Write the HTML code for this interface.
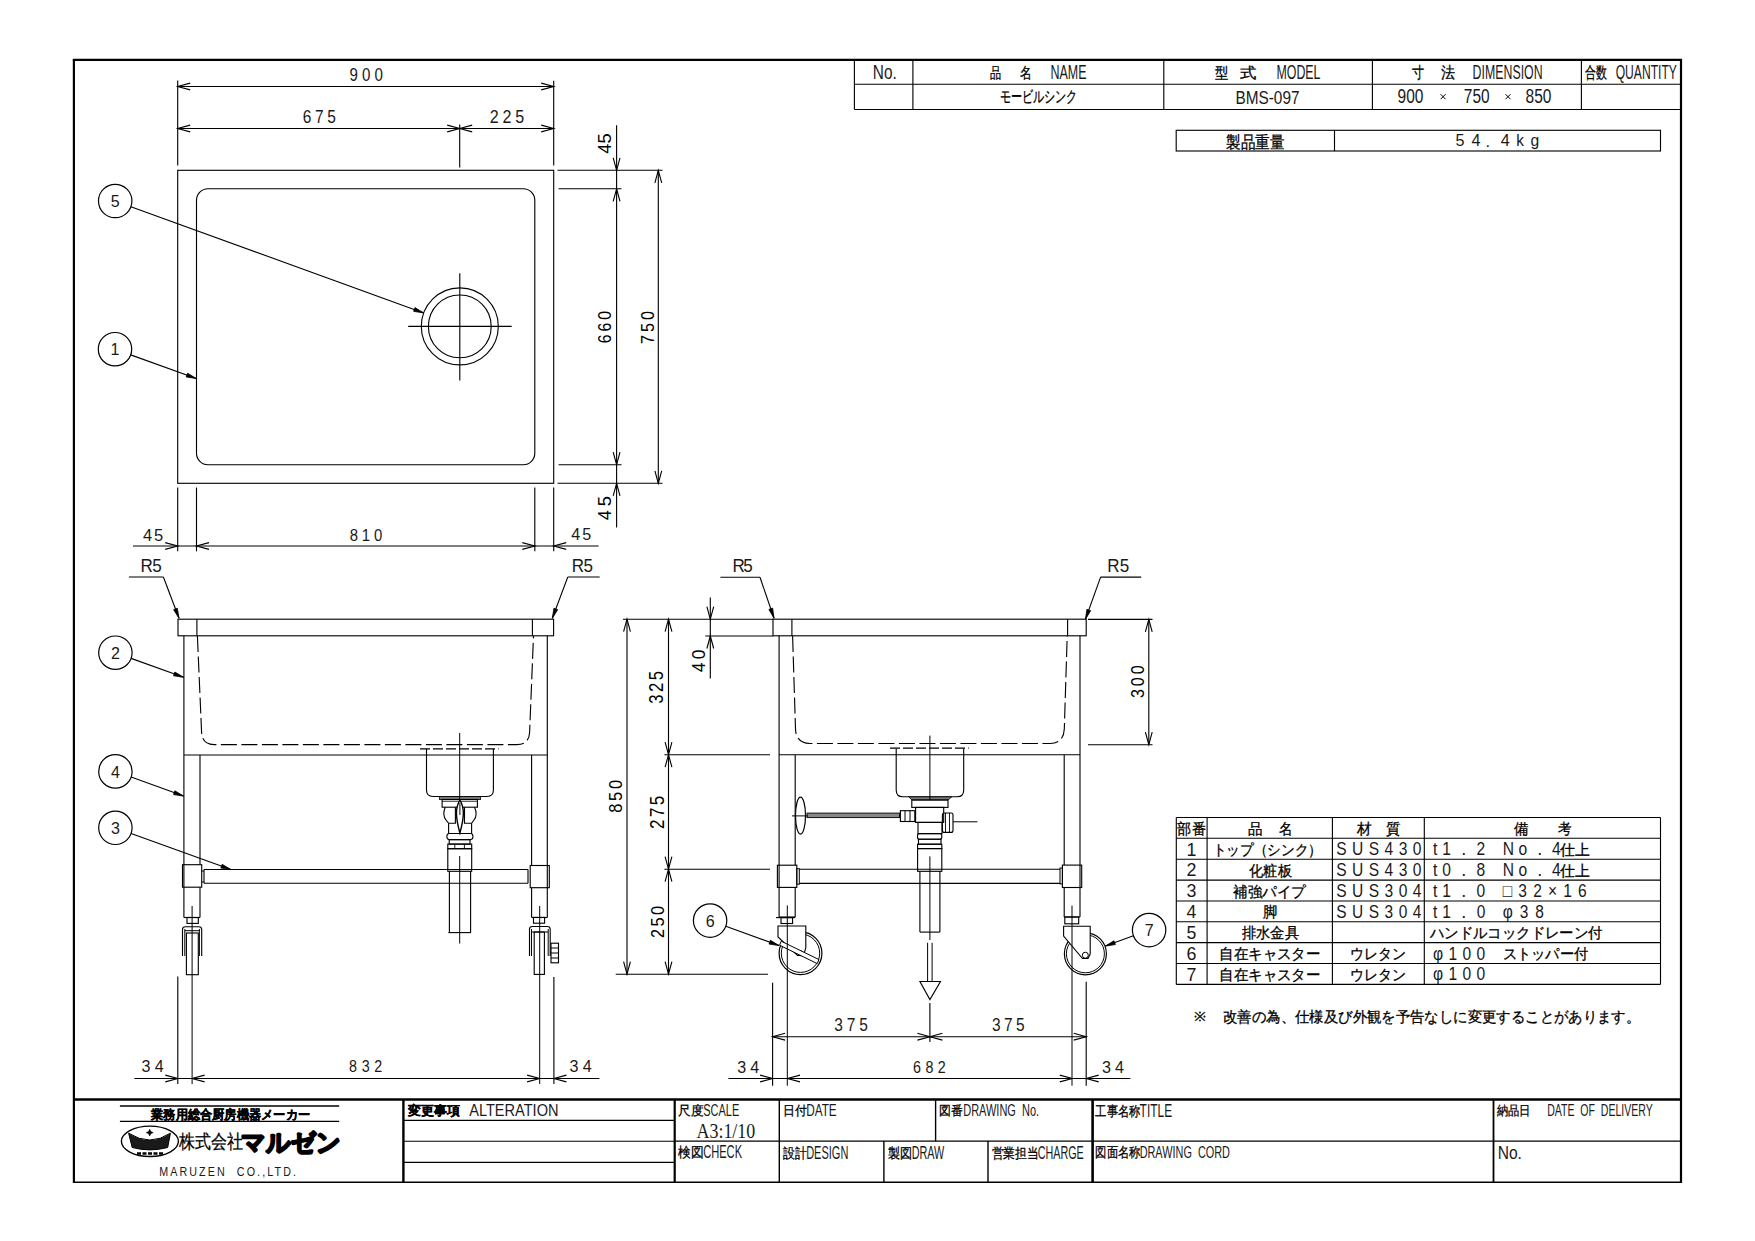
<!DOCTYPE html>
<html><head><meta charset="utf-8"><style>
html,body{margin:0;padding:0;background:#fff;}
svg{display:block;}
</style></head><body>
<svg width="1755" height="1241" viewBox="0 0 1755 1241" stroke-linecap="butt">
<rect x="0" y="0" width="1755" height="1241" fill="#fff"/>
<line x1="72.90" y1="59.90" x2="1682.00" y2="59.90" stroke="#000" stroke-width="2.2" />
<line x1="73.90" y1="59.00" x2="73.90" y2="1183.00" stroke="#000" stroke-width="2.2" />
<line x1="1681.00" y1="59.00" x2="1681.00" y2="1183.00" stroke="#000" stroke-width="2.2" />
<line x1="73.00" y1="1182.20" x2="1682.00" y2="1182.20" stroke="#000" stroke-width="1.6" />
<line x1="854.40" y1="84.30" x2="1681.00" y2="84.30" stroke="#000" stroke-width="1.12" />
<line x1="854.40" y1="109.50" x2="1681.00" y2="109.50" stroke="#000" stroke-width="1.12" />
<line x1="854.40" y1="60.00" x2="854.40" y2="109.50" stroke="#000" stroke-width="1.12" />
<line x1="912.90" y1="60.00" x2="912.90" y2="109.50" stroke="#000" stroke-width="1.12" />
<line x1="1163.80" y1="60.00" x2="1163.80" y2="109.50" stroke="#000" stroke-width="1.12" />
<line x1="1372.40" y1="60.00" x2="1372.40" y2="109.50" stroke="#000" stroke-width="1.12" />
<line x1="1581.40" y1="60.00" x2="1581.40" y2="109.50" stroke="#000" stroke-width="1.12" />
<text transform="translate(872.79,79.40) scale(1.0,1)" font-size="20.22" textLength="23.92" lengthAdjust="spacingAndGlyphs" font-family="'Liberation Sans', sans-serif" font-weight="normal" fill="#1a1a1a" style="white-space:pre" >No.</text>
<text x="989.74" y="78.03" font-size="15.22" textLength="11.12" lengthAdjust="spacingAndGlyphs" font-family="'Liberation Sans', sans-serif" font-weight="normal" style="white-space:pre" stroke="#000" stroke-width="0.3">品</text>
<text x="1019.64" y="78.03" font-size="15.22" textLength="11.72" lengthAdjust="spacingAndGlyphs" font-family="'Liberation Sans', sans-serif" font-weight="normal" style="white-space:pre" stroke="#000" stroke-width="0.3">名</text>
<text transform="translate(1050.52,79.10) scale(1.0,1)" font-size="19.53" textLength="36.05" lengthAdjust="spacingAndGlyphs" font-family="'Liberation Sans', sans-serif" font-weight="normal" fill="#1a1a1a" style="white-space:pre" >NAME</text>
<text x="1215.13" y="77.92" font-size="15.44" textLength="13.34" lengthAdjust="spacingAndGlyphs" font-family="'Liberation Sans', sans-serif" font-weight="normal" style="white-space:pre" stroke="#000" stroke-width="0.3">型</text>
<text x="1240.23" y="77.92" font-size="15.44" textLength="16.44" lengthAdjust="spacingAndGlyphs" font-family="'Liberation Sans', sans-serif" font-weight="normal" style="white-space:pre" stroke="#000" stroke-width="0.3">式</text>
<text transform="translate(1276.42,79.00) scale(1.0,1)" font-size="19.67" textLength="44.07" lengthAdjust="spacingAndGlyphs" font-family="'Liberation Sans', sans-serif" font-weight="normal" fill="#1a1a1a" style="white-space:pre" >MODEL</text>
<text x="1411.91" y="77.70" font-size="15.78" textLength="12.18" lengthAdjust="spacingAndGlyphs" font-family="'Liberation Sans', sans-serif" font-weight="normal" style="white-space:pre" stroke="#000" stroke-width="0.3">寸</text>
<text x="1441.01" y="77.70" font-size="15.78" textLength="13.98" lengthAdjust="spacingAndGlyphs" font-family="'Liberation Sans', sans-serif" font-weight="normal" style="white-space:pre" stroke="#000" stroke-width="0.3">法</text>
<text transform="translate(1472.60,79.00) scale(1.0,1)" font-size="19.94" textLength="69.99" lengthAdjust="spacingAndGlyphs" font-family="'Liberation Sans', sans-serif" font-weight="normal" fill="#1a1a1a" style="white-space:pre" >DIMENSION</text>
<text x="1585.01" y="77.70" font-size="15.78" textLength="21.88" lengthAdjust="spacingAndGlyphs" font-family="'Liberation Sans', sans-serif" font-weight="normal" style="white-space:pre" stroke="#000" stroke-width="0.3">合数</text>
<text transform="translate(1615.70,79.00) scale(1.0,1)" font-size="19.94" textLength="61.19" lengthAdjust="spacingAndGlyphs" font-family="'Liberation Sans', sans-serif" font-weight="normal" fill="#1a1a1a" style="white-space:pre" >QUANTITY</text>
<text x="999.90" y="101.98" font-size="16.00" textLength="77.60" lengthAdjust="spacingAndGlyphs" font-family="'Liberation Sans', sans-serif" font-weight="normal" style="white-space:pre" stroke="#000" stroke-width="0.3">モービルシンク</text>
<text transform="translate(1235.44,103.60) scale(1.0,1)" font-size="19.25" textLength="64.03" lengthAdjust="spacingAndGlyphs" font-family="'Liberation Sans', sans-serif" font-weight="normal" fill="#1a1a1a" style="white-space:pre" >BMS-097</text>
<text transform="translate(1397.52,103.30) scale(1.0,1)" font-size="19.67" textLength="25.87" lengthAdjust="spacingAndGlyphs" font-family="'Liberation Sans', sans-serif" font-weight="normal" fill="#1a1a1a" style="white-space:pre" >900</text>
<text transform="translate(1463.82,103.30) scale(1.0,1)" font-size="19.67" textLength="25.77" lengthAdjust="spacingAndGlyphs" font-family="'Liberation Sans', sans-serif" font-weight="normal" fill="#1a1a1a" style="white-space:pre" >750</text>
<text transform="translate(1525.62,103.30) scale(1.0,1)" font-size="19.67" textLength="25.87" lengthAdjust="spacingAndGlyphs" font-family="'Liberation Sans', sans-serif" font-weight="normal" fill="#1a1a1a" style="white-space:pre" >850</text>
<line x1="1440.60" y1="94.20" x2="1445.60" y2="99.20" stroke="#000" stroke-width="1" />
<line x1="1440.60" y1="99.20" x2="1445.60" y2="94.20" stroke="#000" stroke-width="1" />
<line x1="1505.50" y1="94.20" x2="1510.50" y2="99.20" stroke="#000" stroke-width="1" />
<line x1="1505.50" y1="99.20" x2="1510.50" y2="94.20" stroke="#000" stroke-width="1" />
<rect x="1176.20" y="130.30" width="484.30" height="20.70" rx="0" fill="none" stroke="#000" stroke-width="1.12"/>
<line x1="1334.50" y1="130.30" x2="1334.50" y2="151.00" stroke="#000" stroke-width="1.12" />
<text x="1226.14" y="147.90" font-size="17.11" textLength="58.51" lengthAdjust="spacingAndGlyphs" font-family="'Liberation Sans', sans-serif" font-weight="normal" style="white-space:pre" stroke="#000" stroke-width="0.3">製品重量</text>
<text transform="translate(1455.59,146.20) scale(0.95,1)" font-size="17.04" textLength="11.07" lengthAdjust="spacing" font-family="'Liberation Sans', sans-serif" font-weight="normal" fill="#1a1a1a" style="white-space:pre" >5</text>
<text transform="translate(1471.39,146.20) scale(0.95,1)" font-size="17.04" textLength="10.55" lengthAdjust="spacing" font-family="'Liberation Sans', sans-serif" font-weight="normal" fill="#1a1a1a" style="white-space:pre" >4</text>
<text transform="translate(1485.48,146.60) scale(0.97,1)" font-size="17.00" textLength="4.28" lengthAdjust="spacing" font-family="'Liberation Sans', sans-serif" font-weight="normal" fill="#1a1a1a" style="white-space:pre" >.</text>
<text transform="translate(1500.79,146.20) scale(0.95,1)" font-size="17.04" textLength="10.55" lengthAdjust="spacing" font-family="'Liberation Sans', sans-serif" font-weight="normal" fill="#1a1a1a" style="white-space:pre" >4</text>
<text transform="translate(1516.13,146.20) scale(0.9,1)" font-size="17.04" textLength="8.04" lengthAdjust="spacing" font-family="'Liberation Sans', sans-serif" font-weight="normal" fill="#1a1a1a" style="white-space:pre" >k</text>
<text transform="translate(1530.42,146.20) scale(0.95,1)" font-size="16.50" textLength="9.23" lengthAdjust="spacing" font-family="'Liberation Sans', sans-serif" font-weight="normal" fill="#1a1a1a" style="white-space:pre" >g</text>
<rect x="177.70" y="170.30" width="376.00" height="313.00" rx="0" fill="none" stroke="#000" stroke-width="1.12"/>
<rect x="196.50" y="188.80" width="338.30" height="275.90" rx="11.5" fill="none" stroke="#000" stroke-width="1.12"/>
<circle cx="459.80" cy="326.40" r="38.50" fill="none" stroke="#000" stroke-width="1.12"/>
<circle cx="459.80" cy="326.40" r="31.40" fill="none" stroke="#000" stroke-width="1.12"/>
<line x1="459.80" y1="273.20" x2="459.80" y2="380.60" stroke="#000" stroke-width="1.12" />
<line x1="408.20" y1="326.40" x2="511.70" y2="326.40" stroke="#000" stroke-width="1.12" />
<line x1="177.70" y1="80.50" x2="177.70" y2="165.50" stroke="#000" stroke-width="1.12" />
<line x1="553.70" y1="80.70" x2="553.70" y2="165.50" stroke="#000" stroke-width="1.12" />
<line x1="177.70" y1="86.50" x2="553.70" y2="86.50" stroke="#000" stroke-width="1.12" />
<polyline points="190.20,83.10 177.70,86.50 190.20,89.90" fill="none" stroke="#000" stroke-width="1.12" />
<polyline points="541.20,89.90 553.70,86.50 541.20,83.10" fill="none" stroke="#000" stroke-width="1.12" />
<text transform="translate(349.54,80.70) scale(0.86,1)" font-size="17.59" textLength="38.85" lengthAdjust="spacing" font-family="'Liberation Sans', sans-serif" font-weight="normal" fill="#1a1a1a" style="white-space:pre" >900</text>
<line x1="459.70" y1="124.50" x2="459.70" y2="167.40" stroke="#000" stroke-width="1.12" />
<line x1="177.70" y1="128.50" x2="553.70" y2="128.50" stroke="#000" stroke-width="1.12" />
<polyline points="190.20,125.10 177.70,128.50 190.20,131.90" fill="none" stroke="#000" stroke-width="1.12" />
<polyline points="447.20,131.90 459.70,128.50 447.20,125.10" fill="none" stroke="#000" stroke-width="1.12" />
<polyline points="472.20,125.10 459.70,128.50 472.20,131.90" fill="none" stroke="#000" stroke-width="1.12" />
<polyline points="541.20,131.90 553.70,128.50 541.20,125.10" fill="none" stroke="#000" stroke-width="1.12" />
<text transform="translate(302.83,123.00) scale(0.86,1)" font-size="18.01" textLength="38.43" lengthAdjust="spacing" font-family="'Liberation Sans', sans-serif" font-weight="normal" fill="#1a1a1a" style="white-space:pre" >675</text>
<text transform="translate(489.80,123.00) scale(0.86,1)" font-size="18.70" textLength="40.01" lengthAdjust="spacing" font-family="'Liberation Sans', sans-serif" font-weight="normal" fill="#1a1a1a" style="white-space:pre" >225</text>
<line x1="557.50" y1="170.30" x2="662.50" y2="170.30" stroke="#000" stroke-width="1.12" />
<line x1="558.60" y1="188.80" x2="621.50" y2="188.80" stroke="#000" stroke-width="1.12" />
<line x1="558.60" y1="464.70" x2="621.50" y2="464.70" stroke="#000" stroke-width="1.12" />
<line x1="557.50" y1="483.30" x2="662.50" y2="483.30" stroke="#000" stroke-width="1.12" />
<line x1="616.60" y1="125.20" x2="616.60" y2="527.50" stroke="#000" stroke-width="1.12" />
<polyline points="613.20,157.80 616.60,170.30 620.00,157.80" fill="none" stroke="#000" stroke-width="1.12" />
<polyline points="620.00,201.30 616.60,188.80 613.20,201.30" fill="none" stroke="#000" stroke-width="1.12" />
<polyline points="613.20,452.20 616.60,464.70 620.00,452.20" fill="none" stroke="#000" stroke-width="1.12" />
<polyline points="620.00,495.80 616.60,483.30 613.20,495.80" fill="none" stroke="#000" stroke-width="1.12" />
<line x1="658.30" y1="170.30" x2="658.30" y2="483.30" stroke="#000" stroke-width="1.12" />
<polyline points="661.70,182.80 658.30,170.30 654.90,182.80" fill="none" stroke="#000" stroke-width="1.12" />
<polyline points="654.90,470.80 658.30,483.30 661.70,470.80" fill="none" stroke="#000" stroke-width="1.12" />
<text transform="translate(611.30,153.81) rotate(-90) scale(0.97,1)" font-size="18.84" textLength="21.16" lengthAdjust="spacing" font-family="'Liberation Sans', sans-serif">45</text>
<text transform="translate(611.20,343.29) rotate(-90) scale(0.86,1)" font-size="18.42" textLength="37.54" lengthAdjust="spacing" font-family="'Liberation Sans', sans-serif">660</text>
<text transform="translate(653.80,344.01) rotate(-90) scale(0.86,1)" font-size="18.84" textLength="38.40" lengthAdjust="spacing" font-family="'Liberation Sans', sans-serif">750</text>
<text transform="translate(611.30,520.21) rotate(-90) scale(0.97,1)" font-size="18.84" textLength="24.87" lengthAdjust="spacing" font-family="'Liberation Sans', sans-serif">45</text>
<line x1="177.70" y1="487.50" x2="177.70" y2="551.30" stroke="#000" stroke-width="1.12" />
<line x1="196.50" y1="487.50" x2="196.50" y2="551.30" stroke="#000" stroke-width="1.12" />
<line x1="534.80" y1="487.50" x2="534.80" y2="551.30" stroke="#000" stroke-width="1.12" />
<line x1="553.70" y1="487.50" x2="553.70" y2="551.30" stroke="#000" stroke-width="1.12" />
<line x1="133.00" y1="546.00" x2="598.60" y2="546.00" stroke="#000" stroke-width="1.12" />
<polyline points="165.20,549.40 177.70,546.00 165.20,542.60" fill="none" stroke="#000" stroke-width="1.12" />
<polyline points="209.00,542.60 196.50,546.00 209.00,549.40" fill="none" stroke="#000" stroke-width="1.12" />
<polyline points="522.30,549.40 534.80,546.00 522.30,542.60" fill="none" stroke="#000" stroke-width="1.12" />
<polyline points="566.20,542.60 553.70,546.00 566.20,549.40" fill="none" stroke="#000" stroke-width="1.12" />
<text transform="translate(143.07,540.50) scale(0.97,1)" font-size="17.04" textLength="20.78" lengthAdjust="spacing" font-family="'Liberation Sans', sans-serif" font-weight="normal" fill="#1a1a1a" style="white-space:pre" >45</text>
<text transform="translate(349.76,540.60) scale(0.86,1)" font-size="17.31" textLength="37.78" lengthAdjust="spacing" font-family="'Liberation Sans', sans-serif" font-weight="normal" fill="#1a1a1a" style="white-space:pre" >810</text>
<text transform="translate(571.19,540.30) scale(0.97,1)" font-size="16.62" textLength="20.73" lengthAdjust="spacing" font-family="'Liberation Sans', sans-serif" font-weight="normal" fill="#1a1a1a" style="white-space:pre" >45</text>
<circle cx="115.20" cy="201.00" r="16.70" fill="none" stroke="#000" stroke-width="1.2"/>
<line x1="130.90" y1="206.69" x2="423.70" y2="312.90" stroke="#000" stroke-width="1.1" />
<polygon points="413.62,311.37 423.70,312.90 414.98,307.61" fill="#000" stroke="#000" stroke-width="0.8" />
<text transform="translate(110.74,207.20) scale(1.0,1)" font-size="17.17" textLength="8.92" lengthAdjust="spacingAndGlyphs" font-family="'Liberation Sans', sans-serif" font-weight="normal" fill="#1a1a1a" style="white-space:pre" >5</text>
<circle cx="115.00" cy="349.20" r="16.70" fill="none" stroke="#000" stroke-width="1.2"/>
<line x1="130.71" y1="354.86" x2="196.30" y2="378.50" stroke="#000" stroke-width="1.1" />
<polygon points="186.21,376.99 196.30,378.50 187.57,373.23" fill="#000" stroke="#000" stroke-width="0.8" />
<text transform="translate(110.54,355.40) scale(1.0,1)" font-size="17.17" textLength="8.92" lengthAdjust="spacingAndGlyphs" font-family="'Liberation Sans', sans-serif" font-weight="normal" fill="#1a1a1a" style="white-space:pre" >1</text>
<circle cx="115.40" cy="652.70" r="16.70" fill="none" stroke="#000" stroke-width="1.2"/>
<line x1="131.11" y1="658.37" x2="183.60" y2="677.30" stroke="#000" stroke-width="1.1" />
<polygon points="173.51,675.79 183.60,677.30 174.87,672.03" fill="#000" stroke="#000" stroke-width="0.8" />
<text transform="translate(110.94,658.90) scale(1.0,1)" font-size="17.17" textLength="8.92" lengthAdjust="spacingAndGlyphs" font-family="'Liberation Sans', sans-serif" font-weight="normal" fill="#1a1a1a" style="white-space:pre" >2</text>
<circle cx="115.40" cy="771.40" r="16.70" fill="none" stroke="#000" stroke-width="1.2"/>
<line x1="131.10" y1="777.09" x2="183.60" y2="796.10" stroke="#000" stroke-width="1.1" />
<polygon points="173.52,794.58 183.60,796.10 174.88,790.81" fill="#000" stroke="#000" stroke-width="0.8" />
<text transform="translate(110.94,777.60) scale(1.0,1)" font-size="17.17" textLength="8.92" lengthAdjust="spacingAndGlyphs" font-family="'Liberation Sans', sans-serif" font-weight="normal" fill="#1a1a1a" style="white-space:pre" >4</text>
<circle cx="115.40" cy="827.80" r="16.70" fill="none" stroke="#000" stroke-width="1.2"/>
<line x1="131.10" y1="833.48" x2="230.90" y2="869.60" stroke="#000" stroke-width="1.1" />
<polygon points="220.82,868.08 230.90,869.60 222.18,864.32" fill="#000" stroke="#000" stroke-width="0.8" />
<text transform="translate(110.94,834.00) scale(1.0,1)" font-size="17.17" textLength="8.92" lengthAdjust="spacingAndGlyphs" font-family="'Liberation Sans', sans-serif" font-weight="normal" fill="#1a1a1a" style="white-space:pre" >3</text>
<circle cx="710.10" cy="920.60" r="16.70" fill="none" stroke="#000" stroke-width="1.2"/>
<line x1="725.80" y1="926.29" x2="779.10" y2="945.60" stroke="#000" stroke-width="1.1" />
<polygon points="769.02,944.07 779.10,945.60 770.38,940.31" fill="#000" stroke="#000" stroke-width="0.8" />
<text transform="translate(705.64,926.80) scale(1.0,1)" font-size="17.17" textLength="8.92" lengthAdjust="spacingAndGlyphs" font-family="'Liberation Sans', sans-serif" font-weight="normal" fill="#1a1a1a" style="white-space:pre" >6</text>
<circle cx="1149.10" cy="930.10" r="16.70" fill="none" stroke="#000" stroke-width="1.2"/>
<line x1="1133.41" y1="935.83" x2="1105.30" y2="946.10" stroke="#000" stroke-width="1.1" />
<polygon points="1114.01,940.79 1105.30,946.10 1115.38,944.55" fill="#000" stroke="#000" stroke-width="0.8" />
<text transform="translate(1144.64,936.30) scale(1.0,1)" font-size="17.17" textLength="8.92" lengthAdjust="spacingAndGlyphs" font-family="'Liberation Sans', sans-serif" font-weight="normal" fill="#1a1a1a" style="white-space:pre" >7</text>
<line x1="128.90" y1="577.00" x2="163.40" y2="577.00" stroke="#000" stroke-width="1.1" />
<line x1="163.40" y1="577.00" x2="179.00" y2="618.30" stroke="#000" stroke-width="1.1" />
<polygon points="173.60,609.65 179.00,618.30 177.34,608.24" fill="#000" stroke="#000" stroke-width="0.8" />
<text transform="translate(140.45,571.70) scale(0.97,1)" font-size="17.59" textLength="21.86" lengthAdjust="spacing" font-family="'Liberation Sans', sans-serif" font-weight="normal" fill="#1a1a1a" style="white-space:pre" >R5</text>
<line x1="567.80" y1="577.00" x2="599.70" y2="577.00" stroke="#000" stroke-width="1.1" />
<line x1="567.80" y1="577.00" x2="552.30" y2="618.30" stroke="#000" stroke-width="1.1" />
<polygon points="553.94,608.23 552.30,618.30 557.69,609.64" fill="#000" stroke="#000" stroke-width="0.8" />
<text transform="translate(571.85,571.70) scale(0.97,1)" font-size="17.59" textLength="21.86" lengthAdjust="spacing" font-family="'Liberation Sans', sans-serif" font-weight="normal" fill="#1a1a1a" style="white-space:pre" >R5</text>
<line x1="720.40" y1="577.30" x2="760.00" y2="577.30" stroke="#000" stroke-width="1.1" />
<line x1="760.00" y1="577.30" x2="774.00" y2="618.20" stroke="#000" stroke-width="1.1" />
<polygon points="768.87,609.39 774.00,618.20 772.65,608.09" fill="#000" stroke="#000" stroke-width="0.8" />
<text transform="translate(732.55,571.70) scale(0.97,1)" font-size="17.59" textLength="20.73" lengthAdjust="spacing" font-family="'Liberation Sans', sans-serif" font-weight="normal" fill="#1a1a1a" style="white-space:pre" >R5</text>
<line x1="1100.60" y1="577.10" x2="1141.20" y2="577.10" stroke="#000" stroke-width="1.1" />
<line x1="1100.60" y1="577.10" x2="1085.40" y2="619.40" stroke="#000" stroke-width="1.1" />
<polygon points="1086.90,609.31 1085.40,619.40 1090.66,610.67" fill="#000" stroke="#000" stroke-width="0.8" />
<text transform="translate(1107.35,571.70) scale(0.97,1)" font-size="17.59" textLength="22.69" lengthAdjust="spacing" font-family="'Liberation Sans', sans-serif" font-weight="normal" fill="#1a1a1a" style="white-space:pre" >R5</text>
<rect x="178.00" y="619.20" width="375.60" height="16.60" rx="0" fill="none" stroke="#000" stroke-width="1.12"/>
<line x1="196.90" y1="619.20" x2="196.90" y2="635.80" stroke="#000" stroke-width="1.12" />
<line x1="532.40" y1="619.20" x2="532.40" y2="635.80" stroke="#000" stroke-width="1.12" />
<line x1="183.90" y1="635.80" x2="183.90" y2="917.50" stroke="#000" stroke-width="1.12" />
<line x1="547.30" y1="635.80" x2="547.30" y2="917.50" stroke="#000" stroke-width="1.12" />
<line x1="200.00" y1="755.00" x2="200.00" y2="864.70" stroke="#000" stroke-width="1.12" />
<line x1="200.00" y1="887.20" x2="200.00" y2="917.50" stroke="#000" stroke-width="1.12" />
<line x1="531.60" y1="755.00" x2="531.60" y2="865.50" stroke="#000" stroke-width="1.12" />
<line x1="531.60" y1="887.70" x2="531.60" y2="917.50" stroke="#000" stroke-width="1.12" />
<line x1="183.90" y1="755.00" x2="547.30" y2="755.00" stroke="#000" stroke-width="1.12" />
<line x1="183.90" y1="917.50" x2="200.00" y2="917.50" stroke="#000" stroke-width="1.12" />
<line x1="531.60" y1="917.50" x2="547.30" y2="917.50" stroke="#000" stroke-width="1.12" />
<path d="M197.4,636 L201.6,732.5 Q202.3,744.6 214,744.6 L517,744.6 Q529,744.6 529.6,732.5 L533.5,636" fill="none" stroke="#000" stroke-width="1.12" stroke-dasharray="16 4.5"/>
<rect x="182.50" y="864.70" width="19.20" height="22.50" rx="0" fill="none" stroke="#000" stroke-width="1.12"/>
<rect x="530.20" y="865.50" width="19.10" height="22.20" rx="0" fill="none" stroke="#000" stroke-width="1.12"/>
<line x1="204.00" y1="869.50" x2="528.00" y2="869.50" stroke="#000" stroke-width="1.12" />
<line x1="204.00" y1="883.30" x2="528.00" y2="883.30" stroke="#000" stroke-width="1.12" />
<line x1="204.00" y1="869.50" x2="204.00" y2="883.30" stroke="#000" stroke-width="1.12" />
<line x1="528.00" y1="869.50" x2="528.00" y2="883.30" stroke="#000" stroke-width="1.12" />
<line x1="201.70" y1="871.00" x2="204.00" y2="871.00" stroke="#000" stroke-width="1" />
<line x1="201.70" y1="882.00" x2="204.00" y2="882.00" stroke="#000" stroke-width="1" />
<path d="M420,748.9 L498.6,748.9" fill="none" stroke="#000" stroke-width="1.12" stroke-dasharray="10 3"/>
<path d="M426.5,749 L426.5,790 Q426.5,796.5 433,796.5 L487,796.5 Q493.4,796.5 493.4,790 L493.4,749" fill="none" stroke="#000" stroke-width="1.12" />
<rect x="439.40" y="796.50" width="41.20" height="3.00" rx="0" fill="#777" stroke="#000" stroke-width="0.8"/>
<rect x="442.10" y="799.50" width="35.30" height="7.70" rx="0" fill="none" stroke="#000" stroke-width="1.12"/>
<line x1="442.10" y1="801.30" x2="477.40" y2="801.30" stroke="#000" stroke-width="0.8" />
<path d="M445.2,807.2 Q442,815 446,820 L448.6,823.3 L455.4,823.3 L455.4,807.2" fill="none" stroke="#000" stroke-width="1.12" />
<path d="M474.6,807.2 Q478,815 474,820 L471.6,823.3 L464.5,823.3 L464.5,807.2" fill="none" stroke="#000" stroke-width="1.12" />
<line x1="448.60" y1="823.30" x2="448.60" y2="833.50" stroke="#000" stroke-width="1.12" />
<line x1="471.60" y1="823.30" x2="471.60" y2="833.50" stroke="#000" stroke-width="1.12" />
<rect x="446.90" y="833.50" width="26.00" height="6.10" rx="2.5" fill="none" stroke="#000" stroke-width="1.12"/>
<rect x="449.20" y="839.60" width="20.80" height="4.50" rx="0" fill="none" stroke="#000" stroke-width="1.12"/>
<rect x="447.80" y="844.10" width="23.90" height="4.60" rx="0" fill="none" stroke="#000" stroke-width="1.12"/>
<line x1="454.80" y1="844.10" x2="454.80" y2="848.70" stroke="#000" stroke-width="0.9" />
<line x1="464.40" y1="844.10" x2="464.40" y2="848.70" stroke="#000" stroke-width="0.9" />
<rect x="447.80" y="848.70" width="23.90" height="22.60" rx="0" fill="none" stroke="#000" stroke-width="1.12"/>
<line x1="449.40" y1="871.30" x2="449.40" y2="932.60" stroke="#000" stroke-width="1.12" />
<line x1="470.60" y1="871.30" x2="470.60" y2="932.60" stroke="#000" stroke-width="1.12" />
<line x1="448.40" y1="932.60" x2="471.00" y2="932.60" stroke="#000" stroke-width="1.12" />
<path d="M459.9,800 C464.5,808 464.5,816 459.9,833 C455.3,816 455.3,808 459.9,800 Z" fill="#fff" stroke="#000" stroke-width="1.4" />
<line x1="459.90" y1="803.00" x2="459.90" y2="815.00" stroke="#000" stroke-width="1" />
<line x1="459.70" y1="733.00" x2="459.70" y2="800.00" stroke="#000" stroke-width="1" />
<line x1="459.70" y1="856.00" x2="459.70" y2="943.50" stroke="#000" stroke-width="1" />
<rect x="187.00" y="917.50" width="11.30" height="5.90" rx="0" fill="none" stroke="#000" stroke-width="1.12"/>
<path d="M182.5,956 L182.5,929.5 Q182.5,926.7 185.3,926.7 L198.9,926.7 Q201.7,926.7 201.7,929.5 L201.7,956" fill="none" stroke="#000" stroke-width="1.12" />
<line x1="184.80" y1="929.00" x2="184.80" y2="956.00" stroke="#000" stroke-width="1" />
<line x1="199.40" y1="929.00" x2="199.40" y2="956.00" stroke="#000" stroke-width="1" />
<line x1="184.80" y1="930.70" x2="199.40" y2="930.70" stroke="#000" stroke-width="1" />
<rect x="186.40" y="933.00" width="11.90" height="41.70" rx="0" fill="none" stroke="#000" stroke-width="1.12"/>
<line x1="192.10" y1="906.00" x2="192.10" y2="1084.00" stroke="#000" stroke-width="1" />
<rect x="533.50" y="917.40" width="11.10" height="5.80" rx="0" fill="none" stroke="#000" stroke-width="1.12"/>
<path d="M529.5,956 L529.5,929.3 Q529.5,926.5 532.3,926.5 L547.4,926.5 Q550.2,926.5 550.2,929.3 L550.2,956" fill="none" stroke="#000" stroke-width="1.12" />
<line x1="531.50" y1="929.00" x2="531.50" y2="956.00" stroke="#000" stroke-width="1" />
<line x1="548.20" y1="929.00" x2="548.20" y2="956.00" stroke="#000" stroke-width="1" />
<line x1="531.50" y1="932.00" x2="548.20" y2="932.00" stroke="#000" stroke-width="1" />
<rect x="534.20" y="932.00" width="10.20" height="42.40" rx="0" fill="none" stroke="#000" stroke-width="1.12"/>
<rect x="551.00" y="943.20" width="7.50" height="19.60" rx="0" fill="none" stroke="#000" stroke-width="1.12"/>
<line x1="551.00" y1="948.00" x2="558.50" y2="948.00" stroke="#000" stroke-width="1" />
<line x1="551.00" y1="953.00" x2="558.50" y2="953.00" stroke="#000" stroke-width="1" />
<line x1="551.00" y1="958.00" x2="558.50" y2="958.00" stroke="#000" stroke-width="1" />
<line x1="539.70" y1="906.00" x2="539.70" y2="1084.00" stroke="#000" stroke-width="1" />
<line x1="177.80" y1="976.40" x2="177.80" y2="1084.00" stroke="#000" stroke-width="1.12" />
<line x1="553.90" y1="977.00" x2="553.90" y2="1084.00" stroke="#000" stroke-width="1.12" />
<line x1="134.40" y1="1078.50" x2="599.40" y2="1078.50" stroke="#000" stroke-width="1.12" />
<polyline points="165.30,1081.90 177.80,1078.50 165.30,1075.10" fill="none" stroke="#000" stroke-width="1.12" />
<polyline points="204.60,1075.10 192.10,1078.50 204.60,1081.90" fill="none" stroke="#000" stroke-width="1.12" />
<polyline points="527.10,1081.90 539.60,1078.50 527.10,1075.10" fill="none" stroke="#000" stroke-width="1.12" />
<polyline points="566.40,1075.10 553.90,1078.50 566.40,1081.90" fill="none" stroke="#000" stroke-width="1.12" />
<text transform="translate(141.49,1072.10) scale(0.97,1)" font-size="16.62" textLength="22.80" lengthAdjust="spacing" font-family="'Liberation Sans', sans-serif" font-weight="normal" fill="#1a1a1a" style="white-space:pre" >34</text>
<text transform="translate(348.99,1072.10) scale(0.86,1)" font-size="16.62" textLength="38.76" lengthAdjust="spacing" font-family="'Liberation Sans', sans-serif" font-weight="normal" fill="#1a1a1a" style="white-space:pre" >832</text>
<text transform="translate(569.49,1072.10) scale(0.97,1)" font-size="16.62" textLength="22.90" lengthAdjust="spacing" font-family="'Liberation Sans', sans-serif" font-weight="normal" fill="#1a1a1a" style="white-space:pre" >34</text>
<rect x="773.00" y="619.20" width="313.20" height="16.60" rx="0" fill="none" stroke="#000" stroke-width="1.12"/>
<line x1="791.90" y1="619.20" x2="791.90" y2="635.80" stroke="#000" stroke-width="1.12" />
<line x1="1067.60" y1="619.20" x2="1067.60" y2="635.80" stroke="#000" stroke-width="1.12" />
<line x1="779.10" y1="635.80" x2="779.10" y2="917.00" stroke="#000" stroke-width="1.12" />
<line x1="1080.00" y1="635.80" x2="1080.00" y2="917.00" stroke="#000" stroke-width="1.12" />
<line x1="795.20" y1="755.00" x2="795.20" y2="865.20" stroke="#000" stroke-width="1.12" />
<line x1="795.20" y1="887.40" x2="795.20" y2="917.00" stroke="#000" stroke-width="1.12" />
<line x1="1064.20" y1="755.00" x2="1064.20" y2="865.10" stroke="#000" stroke-width="1.12" />
<line x1="1064.20" y1="887.50" x2="1064.20" y2="917.00" stroke="#000" stroke-width="1.12" />
<line x1="779.10" y1="754.80" x2="1080.00" y2="754.80" stroke="#000" stroke-width="1.12" />
<line x1="779.10" y1="917.00" x2="795.20" y2="917.00" stroke="#000" stroke-width="1.12" />
<line x1="1064.20" y1="917.00" x2="1080.00" y2="917.00" stroke="#000" stroke-width="1.12" />
<path d="M792.6,636 L795.5,729 Q796,743 810,743.5 L1050,743.5 Q1063.8,743 1064.3,729 L1067.2,636" fill="none" stroke="#000" stroke-width="1.12" stroke-dasharray="16 4.5"/>
<rect x="777.40" y="865.20" width="19.40" height="22.20" rx="0" fill="none" stroke="#000" stroke-width="1.12"/>
<rect x="796.80" y="868.70" width="2.50" height="15.50" rx="0" fill="none" stroke="#000" stroke-width="1"/>
<rect x="1062.40" y="865.10" width="19.30" height="22.40" rx="0" fill="none" stroke="#000" stroke-width="1.12"/>
<rect x="1060.00" y="868.00" width="2.40" height="15.90" rx="0" fill="none" stroke="#000" stroke-width="1"/>
<line x1="799.30" y1="869.30" x2="1060.00" y2="869.30" stroke="#000" stroke-width="1.12" />
<line x1="799.30" y1="883.40" x2="1060.00" y2="883.40" stroke="#000" stroke-width="1.12" />
<path d="M890,748.1 L968.7,748.1" fill="none" stroke="#000" stroke-width="1.12" stroke-dasharray="10 3"/>
<path d="M896.2,748.5 L896.2,790 Q896.2,796.8 903,796.8 L957,796.8 Q963.7,796.8 963.7,790 L963.7,748.5" fill="none" stroke="#000" stroke-width="1.12" />
<path d="M908.7,796.8 L951.8,796.8 L948,800 L912,800 Z" fill="#777" stroke="#000" stroke-width="0.8" />
<rect x="911.80" y="800.00" width="36.20" height="7.40" rx="0" fill="none" stroke="#000" stroke-width="1.12"/>
<rect x="915.60" y="807.40" width="28.10" height="15.00" rx="0" fill="none" stroke="#000" stroke-width="1.12"/>
<rect x="918.00" y="822.40" width="24.00" height="11.20" rx="0" fill="none" stroke="#000" stroke-width="1.12"/>
<rect x="917.50" y="833.60" width="24.30" height="5.60" rx="2" fill="none" stroke="#000" stroke-width="1.12"/>
<rect x="918.50" y="839.20" width="22.50" height="5.00" rx="0" fill="none" stroke="#000" stroke-width="1.12"/>
<rect x="917.60" y="844.20" width="24.20" height="4.40" rx="0" fill="none" stroke="#000" stroke-width="1.12"/>
<rect x="917.60" y="848.60" width="24.20" height="22.70" rx="0" fill="none" stroke="#000" stroke-width="1.12"/>
<line x1="919.90" y1="871.30" x2="919.90" y2="932.10" stroke="#000" stroke-width="1.12" />
<line x1="939.90" y1="871.30" x2="939.90" y2="932.10" stroke="#000" stroke-width="1.12" />
<line x1="919.90" y1="932.10" x2="939.90" y2="932.10" stroke="#000" stroke-width="1.12" />
<ellipse cx="800.5" cy="815.6" rx="5" ry="18.5" fill="#fff" stroke="#000" stroke-width="1.2"/>
<rect x="807.00" y="813.10" width="92.60" height="4.50" rx="0" fill="#888" stroke="#000" stroke-width="0.9"/>
<rect x="900.40" y="810.70" width="14.40" height="10.80" rx="0" fill="none" stroke="#000" stroke-width="1.12"/>
<line x1="905.00" y1="810.70" x2="905.00" y2="821.50" stroke="#000" stroke-width="1" />
<line x1="910.00" y1="810.70" x2="910.00" y2="821.50" stroke="#000" stroke-width="1" />
<rect x="942.40" y="813.00" width="10.60" height="19.40" rx="2" fill="none" stroke="#000" stroke-width="1.12"/>
<line x1="945.50" y1="813.00" x2="945.50" y2="832.40" stroke="#000" stroke-width="0.9" />
<line x1="949.50" y1="813.00" x2="949.50" y2="832.40" stroke="#000" stroke-width="0.9" />
<line x1="953.00" y1="821.80" x2="977.40" y2="821.80" stroke="#000" stroke-width="1" />
<line x1="792.00" y1="815.90" x2="808.00" y2="815.90" stroke="#000" stroke-width="1" />
<line x1="929.90" y1="735.60" x2="929.90" y2="800.00" stroke="#000" stroke-width="1" />
<line x1="929.90" y1="856.40" x2="929.90" y2="940.00" stroke="#000" stroke-width="1" />
<line x1="927.60" y1="942.80" x2="927.60" y2="981.50" stroke="#000" stroke-width="1" />
<line x1="932.10" y1="942.80" x2="932.10" y2="981.50" stroke="#000" stroke-width="1" />
<polygon points="919.90,981.50 940.50,981.50 929.90,999.60" fill="none" stroke="#000" stroke-width="1.12" />
<line x1="929.90" y1="1003.00" x2="929.90" y2="1042.00" stroke="#000" stroke-width="1.12" />
<line x1="776.00" y1="917.60" x2="795.20" y2="917.60" stroke="#000" stroke-width="1.12" />
<rect x="781.00" y="917.60" width="11.60" height="5.90" rx="0" fill="none" stroke="#000" stroke-width="1.12"/>
<circle cx="800.50" cy="953.20" r="21.40" fill="none" stroke="#000" stroke-width="1.2"/>
<circle cx="800.50" cy="953.20" r="19.20" fill="none" stroke="#000" stroke-width="1"/>
<polygon points="778.00,926.00 805.80,926.00 805.80,948.00 803.50,955.50 797.50,955.50 778.00,937.00" fill="#fff" stroke="#000" stroke-width="1.12" />
<circle cx="800.50" cy="953.20" r="2.50" fill="none" stroke="#000" stroke-width="1"/>
<polygon points="781.20,941.20 819.00,959.60 817.20,963.60 779.60,945.20" fill="#fff" stroke="#000" stroke-width="1" />
<line x1="787.30" y1="905.40" x2="787.30" y2="1085.70" stroke="#000" stroke-width="1" />
<rect x="1064.80" y="917.00" width="13.90" height="6.80" rx="0" fill="none" stroke="#000" stroke-width="1.12"/>
<circle cx="1085.40" cy="953.80" r="21.00" fill="none" stroke="#000" stroke-width="1.2"/>
<circle cx="1085.40" cy="953.80" r="19.00" fill="none" stroke="#000" stroke-width="1"/>
<polygon points="1063.60,926.20 1090.20,926.20 1090.20,954.00 1088.00,958.50 1082.50,958.50 1063.60,936.00" fill="#fff" stroke="#000" stroke-width="1.12" />
<circle cx="1085.30" cy="955.20" r="3.00" fill="none" stroke="#000" stroke-width="1"/>
<line x1="1072.00" y1="905.60" x2="1072.00" y2="1085.70" stroke="#000" stroke-width="1" />
<line x1="623.00" y1="619.20" x2="773.00" y2="619.20" stroke="#000" stroke-width="1.12" />
<line x1="705.30" y1="636.00" x2="773.00" y2="636.00" stroke="#000" stroke-width="1.12" />
<line x1="664.40" y1="754.70" x2="770.00" y2="754.70" stroke="#000" stroke-width="1.12" />
<line x1="664.40" y1="869.20" x2="770.00" y2="869.20" stroke="#000" stroke-width="1.12" />
<line x1="615.70" y1="974.20" x2="768.00" y2="974.20" stroke="#000" stroke-width="1.12" />
<line x1="627.00" y1="619.20" x2="627.00" y2="974.20" stroke="#000" stroke-width="1.12" />
<polyline points="630.40,631.70 627.00,619.20 623.60,631.70" fill="none" stroke="#000" stroke-width="1.12" />
<polyline points="623.60,961.70 627.00,974.20 630.40,961.70" fill="none" stroke="#000" stroke-width="1.12" />
<line x1="668.50" y1="619.20" x2="668.50" y2="974.20" stroke="#000" stroke-width="1.12" />
<polyline points="671.90,631.70 668.50,619.20 665.10,631.70" fill="none" stroke="#000" stroke-width="1.12" />
<polyline points="665.10,742.20 668.50,754.70 671.90,742.20" fill="none" stroke="#000" stroke-width="1.12" />
<polyline points="671.90,767.20 668.50,754.70 665.10,767.20" fill="none" stroke="#000" stroke-width="1.12" />
<polyline points="665.10,856.70 668.50,869.20 671.90,856.70" fill="none" stroke="#000" stroke-width="1.12" />
<polyline points="671.90,881.70 668.50,869.20 665.10,881.70" fill="none" stroke="#000" stroke-width="1.12" />
<polyline points="665.10,961.70 668.50,974.20 671.90,961.70" fill="none" stroke="#000" stroke-width="1.12" />
<line x1="710.30" y1="597.60" x2="710.30" y2="678.50" stroke="#000" stroke-width="1.12" />
<polyline points="706.90,606.70 710.30,619.20 713.70,606.70" fill="none" stroke="#000" stroke-width="1.12" />
<polyline points="713.70,648.50 710.30,636.00 706.90,648.50" fill="none" stroke="#000" stroke-width="1.12" />
<text transform="translate(621.70,812.82) rotate(-90) scale(0.86,1)" font-size="19.11" textLength="38.31" lengthAdjust="spacing" font-family="'Liberation Sans', sans-serif">850</text>
<text transform="translate(663.30,703.74) rotate(-90) scale(0.86,1)" font-size="19.53" textLength="38.12" lengthAdjust="spacing" font-family="'Liberation Sans', sans-serif">325</text>
<text transform="translate(663.50,828.95) rotate(-90) scale(0.86,1)" font-size="19.81" textLength="38.72" lengthAdjust="spacing" font-family="'Liberation Sans', sans-serif">275</text>
<text transform="translate(663.60,938.12) rotate(-90) scale(0.86,1)" font-size="18.98" textLength="37.48" lengthAdjust="spacing" font-family="'Liberation Sans', sans-serif">250</text>
<text transform="translate(704.60,672.17) rotate(-90) scale(0.97,1)" font-size="18.01" textLength="23.45" lengthAdjust="spacing" font-family="'Liberation Sans', sans-serif">40</text>
<line x1="1088.00" y1="619.40" x2="1152.50" y2="619.40" stroke="#000" stroke-width="1.12" />
<line x1="1088.00" y1="744.70" x2="1152.50" y2="744.70" stroke="#000" stroke-width="1.12" />
<line x1="1148.80" y1="619.40" x2="1148.80" y2="744.70" stroke="#000" stroke-width="1.12" />
<polyline points="1152.20,631.90 1148.80,619.40 1145.40,631.90" fill="none" stroke="#000" stroke-width="1.12" />
<polyline points="1145.40,732.20 1148.80,744.70 1152.20,732.20" fill="none" stroke="#000" stroke-width="1.12" />
<text transform="translate(1143.80,698.10) rotate(-90) scale(0.86,1)" font-size="18.70" textLength="38.15" lengthAdjust="spacing" font-family="'Liberation Sans', sans-serif">300</text>
<line x1="772.60" y1="982.80" x2="772.60" y2="1085.70" stroke="#000" stroke-width="1.12" />
<line x1="1086.20" y1="981.80" x2="1086.20" y2="1085.70" stroke="#000" stroke-width="1.12" />
<line x1="772.60" y1="1036.70" x2="1086.20" y2="1036.70" stroke="#000" stroke-width="1.12" />
<polyline points="785.10,1033.30 772.60,1036.70 785.10,1040.10" fill="none" stroke="#000" stroke-width="1.12" />
<polyline points="917.40,1040.10 929.90,1036.70 917.40,1033.30" fill="none" stroke="#000" stroke-width="1.12" />
<polyline points="942.40,1033.30 929.90,1036.70 942.40,1040.10" fill="none" stroke="#000" stroke-width="1.12" />
<polyline points="1073.70,1040.10 1086.20,1036.70 1073.70,1033.30" fill="none" stroke="#000" stroke-width="1.12" />
<line x1="728.40" y1="1078.50" x2="1130.40" y2="1078.50" stroke="#000" stroke-width="1.12" />
<polyline points="760.10,1081.90 772.60,1078.50 760.10,1075.10" fill="none" stroke="#000" stroke-width="1.12" />
<polyline points="800.00,1075.10 787.50,1078.50 800.00,1081.90" fill="none" stroke="#000" stroke-width="1.12" />
<polyline points="1059.80,1081.90 1072.30,1078.50 1059.80,1075.10" fill="none" stroke="#000" stroke-width="1.12" />
<polyline points="1098.70,1075.10 1086.20,1078.50 1098.70,1081.90" fill="none" stroke="#000" stroke-width="1.12" />
<text transform="translate(834.13,1031.20) scale(0.86,1)" font-size="18.01" textLength="39.36" lengthAdjust="spacing" font-family="'Liberation Sans', sans-serif" font-weight="normal" fill="#1a1a1a" style="white-space:pre" >375</text>
<text transform="translate(992.03,1031.20) scale(0.86,1)" font-size="18.01" textLength="37.96" lengthAdjust="spacing" font-family="'Liberation Sans', sans-serif" font-weight="normal" fill="#1a1a1a" style="white-space:pre" >375</text>
<text transform="translate(913.09,1072.60) scale(0.86,1)" font-size="16.62" textLength="37.94" lengthAdjust="spacing" font-family="'Liberation Sans', sans-serif" font-weight="normal" fill="#1a1a1a" style="white-space:pre" >682</text>
<text transform="translate(737.19,1072.60) scale(0.97,1)" font-size="16.62" textLength="22.59" lengthAdjust="spacing" font-family="'Liberation Sans', sans-serif" font-weight="normal" fill="#1a1a1a" style="white-space:pre" >34</text>
<text transform="translate(1102.09,1072.60) scale(0.97,1)" font-size="16.62" textLength="22.59" lengthAdjust="spacing" font-family="'Liberation Sans', sans-serif" font-weight="normal" fill="#1a1a1a" style="white-space:pre" >34</text>
<line x1="1176.30" y1="817.50" x2="1660.50" y2="817.50" stroke="#000" stroke-width="1.12" />
<line x1="1176.30" y1="838.30" x2="1660.50" y2="838.30" stroke="#000" stroke-width="1.12" />
<line x1="1176.30" y1="859.20" x2="1660.50" y2="859.20" stroke="#000" stroke-width="1.12" />
<line x1="1176.30" y1="880.10" x2="1660.50" y2="880.10" stroke="#000" stroke-width="1.12" />
<line x1="1176.30" y1="901.00" x2="1660.50" y2="901.00" stroke="#000" stroke-width="1.12" />
<line x1="1176.30" y1="921.80" x2="1660.50" y2="921.80" stroke="#000" stroke-width="1.12" />
<line x1="1176.30" y1="942.60" x2="1660.50" y2="942.60" stroke="#000" stroke-width="1.12" />
<line x1="1176.30" y1="963.50" x2="1660.50" y2="963.50" stroke="#000" stroke-width="1.12" />
<line x1="1176.30" y1="984.40" x2="1660.50" y2="984.40" stroke="#000" stroke-width="1.12" />
<line x1="1176.30" y1="817.50" x2="1176.30" y2="984.40" stroke="#000" stroke-width="1.12" />
<line x1="1207.10" y1="817.50" x2="1207.10" y2="984.40" stroke="#000" stroke-width="1.12" />
<line x1="1332.40" y1="817.50" x2="1332.40" y2="984.40" stroke="#000" stroke-width="1.12" />
<line x1="1424.30" y1="817.50" x2="1424.30" y2="984.40" stroke="#000" stroke-width="1.12" />
<line x1="1660.50" y1="817.50" x2="1660.50" y2="984.40" stroke="#000" stroke-width="1.12" />
<text x="1177.43" y="833.83" font-size="15.33" textLength="28.23" lengthAdjust="spacingAndGlyphs" font-family="'Liberation Sans', sans-serif" font-weight="normal" style="white-space:pre" stroke="#000" stroke-width="0.3">部番</text>
<text x="1248.23" y="833.83" font-size="15.33" textLength="14.53" lengthAdjust="spacingAndGlyphs" font-family="'Liberation Sans', sans-serif" font-weight="normal" style="white-space:pre" stroke="#000" stroke-width="0.3">品</text>
<text x="1278.73" y="833.83" font-size="15.33" textLength="13.63" lengthAdjust="spacingAndGlyphs" font-family="'Liberation Sans', sans-serif" font-weight="normal" style="white-space:pre" stroke="#000" stroke-width="0.3">名</text>
<text x="1357.13" y="833.83" font-size="15.33" textLength="14.63" lengthAdjust="spacingAndGlyphs" font-family="'Liberation Sans', sans-serif" font-weight="normal" style="white-space:pre" stroke="#000" stroke-width="0.3">材</text>
<text x="1386.03" y="833.83" font-size="15.33" textLength="14.53" lengthAdjust="spacingAndGlyphs" font-family="'Liberation Sans', sans-serif" font-weight="normal" style="white-space:pre" stroke="#000" stroke-width="0.3">質</text>
<text x="1513.73" y="833.83" font-size="15.33" textLength="14.43" lengthAdjust="spacingAndGlyphs" font-family="'Liberation Sans', sans-serif" font-weight="normal" style="white-space:pre" stroke="#000" stroke-width="0.3">備</text>
<text x="1557.53" y="833.83" font-size="15.33" textLength="13.53" lengthAdjust="spacingAndGlyphs" font-family="'Liberation Sans', sans-serif" font-weight="normal" style="white-space:pre" stroke="#000" stroke-width="0.3">考</text>
<text transform="translate(1186.61,855.50) scale(0.97,1)" font-size="18.42" textLength="10.09" lengthAdjust="spacing" font-family="'Liberation Sans', sans-serif" font-weight="normal" fill="#1a1a1a" style="white-space:pre" >1</text>
<text x="1212.83" y="854.72" font-size="15.44" textLength="109.14" lengthAdjust="spacingAndGlyphs" font-family="'Liberation Sans', sans-serif" font-weight="normal" style="white-space:pre" stroke="#000" stroke-width="0.3">トップ（シンク）</text>
<text transform="translate(1336.22,855.20) scale(0.86,1)" font-size="18.14" textLength="99.14" lengthAdjust="spacing" font-family="'Liberation Sans', sans-serif" font-weight="normal" fill="#1a1a1a" style="white-space:pre" >SUS430</text>
<text transform="translate(1186.61,876.40) scale(0.97,1)" font-size="18.42" textLength="10.09" lengthAdjust="spacing" font-family="'Liberation Sans', sans-serif" font-weight="normal" fill="#1a1a1a" style="white-space:pre" >2</text>
<text x="1249.03" y="875.62" font-size="15.44" textLength="42.74" lengthAdjust="spacingAndGlyphs" font-family="'Liberation Sans', sans-serif" font-weight="normal" style="white-space:pre" stroke="#000" stroke-width="0.3">化粧板</text>
<text transform="translate(1336.22,876.10) scale(0.86,1)" font-size="18.14" textLength="99.14" lengthAdjust="spacing" font-family="'Liberation Sans', sans-serif" font-weight="normal" fill="#1a1a1a" style="white-space:pre" >SUS430</text>
<text transform="translate(1186.61,897.30) scale(0.97,1)" font-size="18.42" textLength="10.09" lengthAdjust="spacing" font-family="'Liberation Sans', sans-serif" font-weight="normal" fill="#1a1a1a" style="white-space:pre" >3</text>
<text x="1233.23" y="896.52" font-size="15.44" textLength="72.84" lengthAdjust="spacingAndGlyphs" font-family="'Liberation Sans', sans-serif" font-weight="normal" style="white-space:pre" stroke="#000" stroke-width="0.3">補強パイプ</text>
<text transform="translate(1336.22,897.00) scale(0.86,1)" font-size="18.14" textLength="99.14" lengthAdjust="spacing" font-family="'Liberation Sans', sans-serif" font-weight="normal" fill="#1a1a1a" style="white-space:pre" >SUS304</text>
<text transform="translate(1186.61,918.10) scale(0.97,1)" font-size="18.28" textLength="10.08" lengthAdjust="spacing" font-family="'Liberation Sans', sans-serif" font-weight="normal" fill="#1a1a1a" style="white-space:pre" >4</text>
<text x="1263.23" y="917.33" font-size="15.33" textLength="14.33" lengthAdjust="spacingAndGlyphs" font-family="'Liberation Sans', sans-serif" font-weight="normal" style="white-space:pre" stroke="#000" stroke-width="0.3">脚</text>
<text transform="translate(1336.23,917.80) scale(0.86,1)" font-size="18.01" textLength="99.13" lengthAdjust="spacing" font-family="'Liberation Sans', sans-serif" font-weight="normal" fill="#1a1a1a" style="white-space:pre" >SUS304</text>
<text transform="translate(1186.61,938.90) scale(0.97,1)" font-size="18.28" textLength="10.08" lengthAdjust="spacing" font-family="'Liberation Sans', sans-serif" font-weight="normal" fill="#1a1a1a" style="white-space:pre" >5</text>
<text x="1241.83" y="938.13" font-size="15.33" textLength="57.13" lengthAdjust="spacingAndGlyphs" font-family="'Liberation Sans', sans-serif" font-weight="normal" style="white-space:pre" stroke="#000" stroke-width="0.3">排水金具</text>
<text transform="translate(1186.61,959.80) scale(0.97,1)" font-size="18.42" textLength="10.09" lengthAdjust="spacing" font-family="'Liberation Sans', sans-serif" font-weight="normal" fill="#1a1a1a" style="white-space:pre" >6</text>
<text x="1219.13" y="959.02" font-size="15.44" textLength="101.24" lengthAdjust="spacingAndGlyphs" font-family="'Liberation Sans', sans-serif" font-weight="normal" style="white-space:pre" stroke="#000" stroke-width="0.3">自在キャスター</text>
<text x="1350.13" y="959.02" font-size="15.44" textLength="55.64" lengthAdjust="spacingAndGlyphs" font-family="'Liberation Sans', sans-serif" font-weight="normal" style="white-space:pre" stroke="#000" stroke-width="0.3">ウレタン</text>
<text transform="translate(1186.61,980.70) scale(0.97,1)" font-size="18.42" textLength="10.09" lengthAdjust="spacing" font-family="'Liberation Sans', sans-serif" font-weight="normal" fill="#1a1a1a" style="white-space:pre" >7</text>
<text x="1219.13" y="979.92" font-size="15.44" textLength="101.24" lengthAdjust="spacingAndGlyphs" font-family="'Liberation Sans', sans-serif" font-weight="normal" style="white-space:pre" stroke="#000" stroke-width="0.3">自在キャスター</text>
<text x="1350.13" y="979.92" font-size="15.44" textLength="55.64" lengthAdjust="spacingAndGlyphs" font-family="'Liberation Sans', sans-serif" font-weight="normal" style="white-space:pre" stroke="#000" stroke-width="0.3">ウレタン</text>
<text transform="translate(1432.92,855.20) scale(0.86,1)" font-size="18.14" textLength="60.88" lengthAdjust="spacing" font-family="'Liberation Sans', sans-serif" font-weight="normal" fill="#1a1a1a" style="white-space:pre" >t1．2</text>
<text transform="translate(1502.72,855.20) scale(0.86,1)" font-size="18.14" textLength="67.51" lengthAdjust="spacing" font-family="'Liberation Sans', sans-serif" font-weight="normal" fill="#1a1a1a" style="white-space:pre" >No．4</text>
<text x="1560.23" y="854.72" font-size="15.44" textLength="29.74" lengthAdjust="spacingAndGlyphs" font-family="'Liberation Sans', sans-serif" font-weight="normal" style="white-space:pre" stroke="#000" stroke-width="0.3">仕上</text>
<text transform="translate(1432.92,876.10) scale(0.86,1)" font-size="18.14" textLength="60.88" lengthAdjust="spacing" font-family="'Liberation Sans', sans-serif" font-weight="normal" fill="#1a1a1a" style="white-space:pre" >t0．8</text>
<text transform="translate(1502.72,876.10) scale(0.86,1)" font-size="18.14" textLength="67.51" lengthAdjust="spacing" font-family="'Liberation Sans', sans-serif" font-weight="normal" fill="#1a1a1a" style="white-space:pre" >No．4</text>
<text x="1560.23" y="875.62" font-size="15.44" textLength="29.74" lengthAdjust="spacingAndGlyphs" font-family="'Liberation Sans', sans-serif" font-weight="normal" style="white-space:pre" stroke="#000" stroke-width="0.3">仕上</text>
<text transform="translate(1432.92,897.00) scale(0.86,1)" font-size="18.14" textLength="60.88" lengthAdjust="spacing" font-family="'Liberation Sans', sans-serif" font-weight="normal" fill="#1a1a1a" style="white-space:pre" >t1．0</text>
<text transform="translate(1502.72,897.00) scale(0.86,1)" font-size="18.14" textLength="97.74" lengthAdjust="spacing" font-family="'Liberation Sans', sans-serif" font-weight="normal" fill="#1a1a1a" style="white-space:pre" >□32×16</text>
<text transform="translate(1432.93,917.80) scale(0.86,1)" font-size="18.01" textLength="60.87" lengthAdjust="spacing" font-family="'Liberation Sans', sans-serif" font-weight="normal" fill="#1a1a1a" style="white-space:pre" >t1．0</text>
<text transform="translate(1502.73,917.80) scale(0.86,1)" font-size="18.01" textLength="47.96" lengthAdjust="spacing" font-family="'Liberation Sans', sans-serif" font-weight="normal" fill="#1a1a1a" style="white-space:pre" >φ38</text>
<text x="1429.93" y="938.13" font-size="15.33" textLength="172.43" lengthAdjust="spacingAndGlyphs" font-family="'Liberation Sans', sans-serif" font-weight="normal" style="white-space:pre" stroke="#000" stroke-width="0.3">ハンドルコックドレーン付</text>
<text transform="translate(1432.92,959.50) scale(0.86,1)" font-size="18.14" textLength="60.88" lengthAdjust="spacing" font-family="'Liberation Sans', sans-serif" font-weight="normal" fill="#1a1a1a" style="white-space:pre" >φ100</text>
<text x="1502.73" y="959.02" font-size="15.44" textLength="85.44" lengthAdjust="spacingAndGlyphs" font-family="'Liberation Sans', sans-serif" font-weight="normal" style="white-space:pre" stroke="#000" stroke-width="0.3">ストッパー付</text>
<text transform="translate(1432.92,980.40) scale(0.86,1)" font-size="18.14" textLength="60.88" lengthAdjust="spacing" font-family="'Liberation Sans', sans-serif" font-weight="normal" fill="#1a1a1a" style="white-space:pre" >φ100</text>
<text x="1194.36" y="1021.11" font-size="12.78" textLength="12.28" lengthAdjust="spacingAndGlyphs" font-family="'Liberation Sans', sans-serif" font-weight="normal" style="white-space:pre" stroke="#000" stroke-width="0.3">※</text>
<text x="1223.04" y="1022.14" font-size="15.11" textLength="417.21" lengthAdjust="spacingAndGlyphs" font-family="'Liberation Sans', sans-serif" font-weight="normal" style="white-space:pre" stroke="#000" stroke-width="0.3">改善の為、仕様及び外観を予告なしに変更することがあります。</text>
<line x1="73.00" y1="1099.50" x2="1682.00" y2="1099.50" stroke="#000" stroke-width="2.4" />
<line x1="403.40" y1="1099.50" x2="403.40" y2="1182.20" stroke="#000" stroke-width="2.4" />
<line x1="674.70" y1="1099.50" x2="674.70" y2="1182.20" stroke="#000" stroke-width="2.2" />
<line x1="779.30" y1="1099.50" x2="779.30" y2="1182.20" stroke="#000" stroke-width="1.4" />
<line x1="935.60" y1="1099.50" x2="935.60" y2="1141.10" stroke="#000" stroke-width="1.4" />
<line x1="883.90" y1="1141.10" x2="883.90" y2="1182.20" stroke="#000" stroke-width="1.4" />
<line x1="988.00" y1="1141.10" x2="988.00" y2="1182.20" stroke="#000" stroke-width="1.4" />
<line x1="1092.60" y1="1099.50" x2="1092.60" y2="1182.20" stroke="#000" stroke-width="2.6" />
<line x1="1493.50" y1="1099.50" x2="1493.50" y2="1182.20" stroke="#000" stroke-width="1.8" />
<line x1="674.70" y1="1141.10" x2="1681.00" y2="1141.10" stroke="#000" stroke-width="1.12" />
<line x1="403.40" y1="1120.40" x2="674.70" y2="1120.40" stroke="#000" stroke-width="1.12" />
<line x1="403.40" y1="1141.30" x2="674.70" y2="1141.30" stroke="#000" stroke-width="1.12" />
<line x1="403.40" y1="1162.40" x2="674.70" y2="1162.40" stroke="#000" stroke-width="1.12" />
<text x="407.86" y="1115.10" font-size="12.89" textLength="51.79" lengthAdjust="spacingAndGlyphs" font-family="'Liberation Sans', sans-serif" font-weight="bold" style="white-space:pre" stroke="#000" stroke-width="0.3">変更事項</text>
<text transform="translate(469.20,1115.80) scale(1.0,1)" font-size="15.93" textLength="89.29" lengthAdjust="spacingAndGlyphs" font-family="'Liberation Sans', sans-serif" font-weight="normal" fill="#1a1a1a" style="white-space:pre" >ALTERATION</text>
<text x="678.25" y="1115.09" font-size="13.00" textLength="25.40" lengthAdjust="spacingAndGlyphs" font-family="'Liberation Sans', sans-serif" font-weight="normal" style="white-space:pre" stroke="#000" stroke-width="0.3">尺度</text>
<text transform="translate(703.19,1116.00) scale(1.0,1)" font-size="16.20" textLength="36.02" lengthAdjust="spacingAndGlyphs" font-family="'Liberation Sans', sans-serif" font-weight="normal" fill="#1a1a1a" style="white-space:pre" >SCALE</text>
<text transform="translate(696.49,1137.80) scale(1.0,1)" font-size="20.22" textLength="58.82" lengthAdjust="spacingAndGlyphs" font-family="'Liberation Serif', serif" font-weight="normal" fill="#1a1a1a" style="white-space:pre" >A3:1/10</text>
<text x="678.20" y="1157.02" font-size="14.00" textLength="25.50" lengthAdjust="spacingAndGlyphs" font-family="'Liberation Sans', sans-serif" font-weight="normal" style="white-space:pre" stroke="#000" stroke-width="0.3">検図</text>
<text transform="translate(703.13,1158.00) scale(1.0,1)" font-size="17.45" textLength="38.95" lengthAdjust="spacingAndGlyphs" font-family="'Liberation Sans', sans-serif" font-weight="normal" fill="#1a1a1a" style="white-space:pre" >CHECK</text>
<text x="782.95" y="1115.29" font-size="13.00" textLength="23.70" lengthAdjust="spacingAndGlyphs" font-family="'Liberation Sans', sans-serif" font-weight="normal" style="white-space:pre" stroke="#000" stroke-width="0.3">日付</text>
<text transform="translate(806.19,1116.20) scale(1.0,1)" font-size="16.20" textLength="30.52" lengthAdjust="spacingAndGlyphs" font-family="'Liberation Sans', sans-serif" font-weight="normal" fill="#1a1a1a" style="white-space:pre" >DATE</text>
<text x="938.85" y="1115.29" font-size="13.00" textLength="23.80" lengthAdjust="spacingAndGlyphs" font-family="'Liberation Sans', sans-serif" font-weight="normal" style="white-space:pre" stroke="#000" stroke-width="0.3">図番</text>
<text transform="translate(963.19,1116.20) scale(1.0,1)" font-size="16.20" textLength="75.92" lengthAdjust="spacingAndGlyphs" font-family="'Liberation Sans', sans-serif" font-weight="normal" fill="#1a1a1a" style="white-space:pre" >DRAWING  No.</text>
<text x="782.90" y="1157.82" font-size="14.00" textLength="23.80" lengthAdjust="spacingAndGlyphs" font-family="'Liberation Sans', sans-serif" font-weight="normal" style="white-space:pre" stroke="#000" stroke-width="0.3">設計</text>
<text transform="translate(806.13,1158.80) scale(1.0,1)" font-size="17.45" textLength="42.25" lengthAdjust="spacingAndGlyphs" font-family="'Liberation Sans', sans-serif" font-weight="normal" fill="#1a1a1a" style="white-space:pre" >DESIGN</text>
<text x="887.50" y="1157.82" font-size="14.00" textLength="24.20" lengthAdjust="spacingAndGlyphs" font-family="'Liberation Sans', sans-serif" font-weight="normal" style="white-space:pre" stroke="#000" stroke-width="0.3">製図</text>
<text transform="translate(911.63,1158.80) scale(1.0,1)" font-size="17.45" textLength="32.65" lengthAdjust="spacingAndGlyphs" font-family="'Liberation Sans', sans-serif" font-weight="normal" fill="#1a1a1a" style="white-space:pre" >DRAW</text>
<text x="991.70" y="1157.82" font-size="14.00" textLength="47.00" lengthAdjust="spacingAndGlyphs" font-family="'Liberation Sans', sans-serif" font-weight="normal" style="white-space:pre" stroke="#000" stroke-width="0.3">営業担当</text>
<text transform="translate(1037.63,1158.80) scale(1.0,1)" font-size="17.45" textLength="46.15" lengthAdjust="spacingAndGlyphs" font-family="'Liberation Sans', sans-serif" font-weight="normal" fill="#1a1a1a" style="white-space:pre" >CHARGE</text>
<text x="1095.29" y="1115.51" font-size="14.11" textLength="45.41" lengthAdjust="spacingAndGlyphs" font-family="'Liberation Sans', sans-serif" font-weight="normal" style="white-space:pre" stroke="#000" stroke-width="0.3">工事名称</text>
<text transform="translate(1139.62,1116.50) scale(1.0,1)" font-size="17.59" textLength="32.46" lengthAdjust="spacingAndGlyphs" font-family="'Liberation Sans', sans-serif" font-weight="normal" fill="#1a1a1a" style="white-space:pre" >TITLE</text>
<text x="1095.31" y="1157.33" font-size="13.89" textLength="45.39" lengthAdjust="spacingAndGlyphs" font-family="'Liberation Sans', sans-serif" font-weight="normal" style="white-space:pre" stroke="#000" stroke-width="0.3">図面名称</text>
<text transform="translate(1139.63,1158.30) scale(1.0,1)" font-size="17.31" textLength="90.33" lengthAdjust="spacingAndGlyphs" font-family="'Liberation Sans', sans-serif" font-weight="normal" fill="#1a1a1a" style="white-space:pre" >DRAWING  CORD</text>
<text x="1496.93" y="1115.07" font-size="13.33" textLength="33.73" lengthAdjust="spacingAndGlyphs" font-family="'Liberation Sans', sans-serif" font-weight="normal" style="white-space:pre" stroke="#000" stroke-width="0.3">納品日</text>
<text transform="translate(1547.17,1116.00) scale(1.0,1)" font-size="16.62" textLength="105.66" lengthAdjust="spacingAndGlyphs" font-family="'Liberation Sans', sans-serif" font-weight="normal" fill="#1a1a1a" style="white-space:pre" >DATE  OF  DELIVERY</text>
<text transform="translate(1497.69,1159.00) scale(1.0,1)" font-size="18.28" textLength="24.23" lengthAdjust="spacingAndGlyphs" font-family="'Liberation Sans', sans-serif" font-weight="normal" fill="#1a1a1a" style="white-space:pre" >No.</text>
<line x1="119.90" y1="1106.00" x2="339.20" y2="1106.00" stroke="#000" stroke-width="1.3" />
<line x1="119.90" y1="1121.30" x2="339.20" y2="1121.30" stroke="#000" stroke-width="1.3" />
<text x="151.16" y="1118.61" font-size="12.78" textLength="158.78" lengthAdjust="spacingAndGlyphs" font-family="'Liberation Sans', sans-serif" font-weight="bold" style="white-space:pre" stroke="#000" stroke-width="0.3">業務用総合厨房機器メーカー</text>
<ellipse cx="149.9" cy="1141.3" rx="28.5" ry="15.2" fill="none" stroke="#000" stroke-width="1.4"/>
<path d="M128.6,1133.2 Q149.9,1146.8 170.4,1133.2 L167.7,1147.5 Q149.9,1152.3 132.2,1147.5 Z" fill="#1a1a1a" stroke="#000" stroke-width="1" />
<path d="M149.7,1129.2 L150.8,1131.5 L153.2,1132.6 L150.8,1133.7 L149.7,1136 L148.6,1133.7 L146.2,1132.6 L148.6,1131.5 Z" fill="#000" stroke="#000" stroke-width="0.5" />
<line x1="137.00" y1="1153.50" x2="163.00" y2="1153.50" stroke="#000" stroke-width="2.6" stroke-dasharray="4 1.5"/>
<text x="178.76" y="1148.49" font-size="18.78" textLength="63.68" lengthAdjust="spacingAndGlyphs" font-family="'Liberation Sans', sans-serif" font-weight="normal" style="white-space:pre" stroke="#000" stroke-width="0.3">株式会社</text>
<text x="240.64" y="1150.73" font-size="25.22" textLength="100.32" lengthAdjust="spacingAndGlyphs" font-family="'Liberation Sans', sans-serif" font-weight="bold" style="white-space:pre" stroke="#000" stroke-width="2.2" stroke-linejoin="round">マルゼン</text>
<text transform="translate(159.16,1175.80) scale(0.86,1)" font-size="12.47" textLength="159.04" lengthAdjust="spacing" font-family="'Liberation Sans', sans-serif" font-weight="normal" fill="#1a1a1a" style="white-space:pre" >MARUZEN  CO.,LTD.</text>
</svg></body></html>
